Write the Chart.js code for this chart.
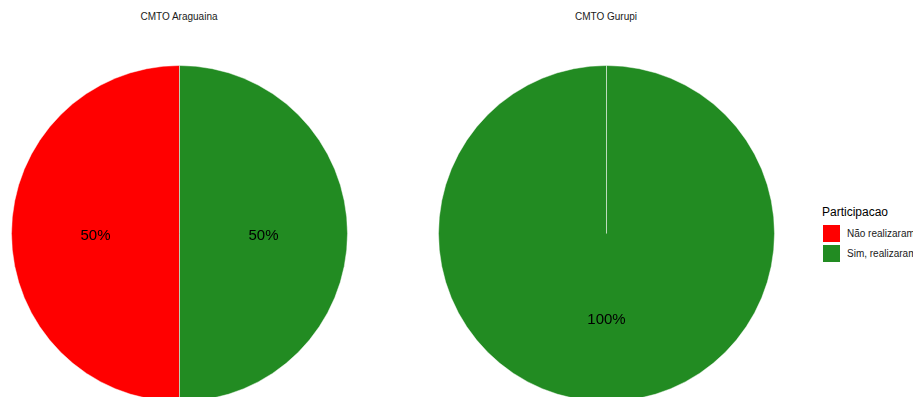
<!DOCTYPE html>
<html>
<head>
<meta charset="utf-8">
<script src="https://cdn.jsdelivr.net/npm/chart.js@4"></script>
<style>
  html, body { margin: 0; padding: 0; background: #fff; overflow: hidden; width: 913px; height: 397px; }
  body { position: relative; font-family: "Liberation Sans", Arial, sans-serif; }
  canvas { position: absolute; }
  .facet { position: absolute; top: 11px; width: 300px; text-align: center; font-size: 10px; color: #1a1a1a; }
  #legend { position: absolute; left: 822px; top: 205px; white-space: nowrap; }
  #legend .ttl { font-size: 12px; color: #000; margin-bottom: 4px; }
  #legend .item { display: flex; align-items: center; height: 20px; font-size: 10px; color: #1a1a1a; }
  #legend .sw { width: 17px; height: 17px; margin-right: 7px; margin-left: 1px; }
</style>
</head>
<body>
<div class="facet" id="t1" style="left:29px"></div>
<div class="facet" id="t2" style="left:456px"></div>
<canvas id="pie1" width="337" height="337" style="left:11px; top:65px"></canvas>
<canvas id="pie2" width="337" height="337" style="left:438px; top:65px"></canvas>
<div id="legend"></div>
<script>
const legendTitle = "Participacao";
const categories = ["Não realizaram", "Sim, realizaram"];
const colors = ["#FF0000", "#228B22"];
const facets = ["CMTO Araguaina", "CMTO Gurupi"];
const araguainaPct = [50, 50];
const gurupiPct = [0, 100];

document.getElementById('t1').textContent = facets[0];
document.getElementById('t2').textContent = facets[1];

// legend
let leg = document.getElementById('legend');
let html = '<div class="ttl">' + legendTitle + '</div>';
categories.forEach((c, i) => {
    html += '<div class="item"><div class="sw" style="background:' + colors[i] + '"></div>' + c + '</div>';
});
leg.innerHTML = html;

// percentage text at half radius of each slice
const pctLabels = {
    id: 'pctLabels',
    afterDatasetsDraw(chart) {
        const ctx = chart.ctx;
        const meta = chart.getDatasetMeta(0);
        const values = chart.data.datasets[0].data;
        ctx.save();
        ctx.font = '15px "Liberation Sans", Arial, sans-serif';
        ctx.fillStyle = '#000';
        ctx.textAlign = 'center';
        ctx.textBaseline = 'middle';
        meta.data.forEach((arc, i) => {
            if (!values[i]) return;
            const p = arc.getProps(['x', 'y', 'startAngle', 'endAngle', 'outerRadius'], true);
            const mid = (p.startAngle + p.endAngle) / 2;
            const r = p.outerRadius * 0.5;
            ctx.fillText(values[i] + '%', p.x + Math.cos(mid) * r, p.y + Math.sin(mid) * r + 2);
        });
        ctx.restore();
    }
};

function makePie(id, values, rotation) {
    new Chart(document.getElementById(id), {
        type: 'pie',
        data: {
            labels: categories,
            datasets: [{
                data: values,
                backgroundColor: colors,
                borderColor: 'rgba(255,255,255,0.45)',
                borderWidth: 1
            }]
        },
        options: {
            responsive: false,
            animation: false,
            rotation: rotation,
            layout: { padding: 0 },
            plugins: {
                legend: { display: false },
                tooltip: { enabled: false },
                title: { display: false }
            }
        },
        plugins: [pctLabels]
    });
}

makePie('pie1', araguainaPct, 180);
makePie('pie2', gurupiPct, 0);
</script>
</body>
</html>
